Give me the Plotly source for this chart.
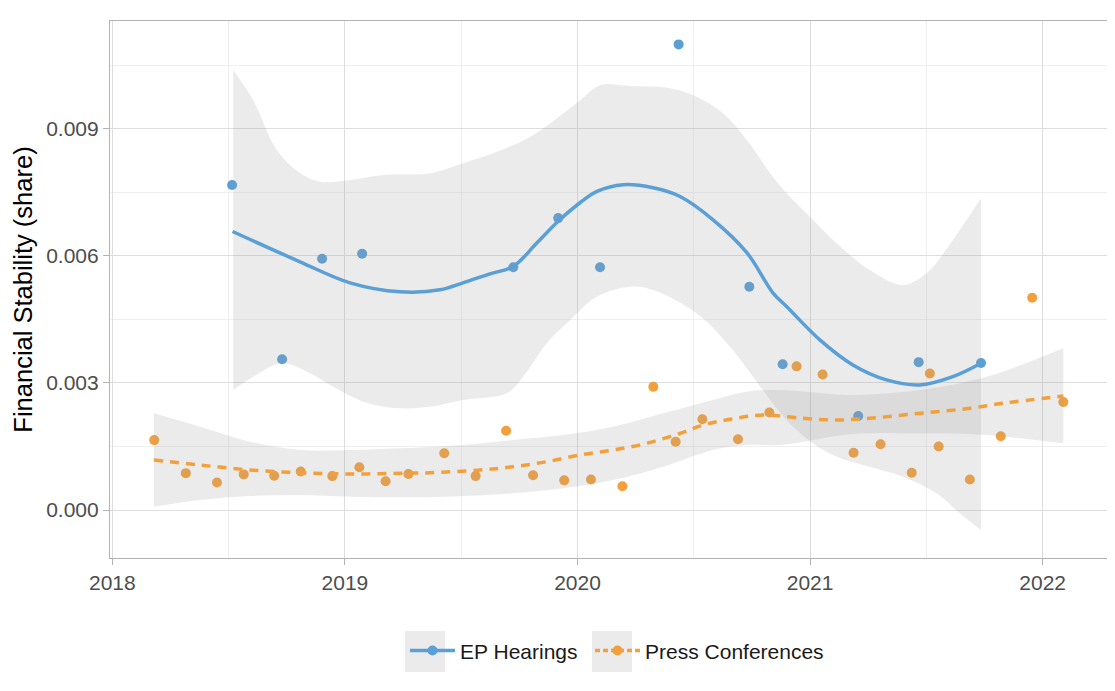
import plotly.graph_objects as go

# ---- data ----
ep_x = [2018.515, 2018.730, 2018.902, 2019.074, 2019.724, 2019.917, 2020.097,
        2020.435, 2020.739, 2020.882, 2021.207, 2021.467, 2021.735]
ep_y = [0.00767, 0.00356, 0.00593, 0.00605, 0.00573, 0.00689, 0.00573,
        0.01099, 0.00527, 0.00344, 0.00222, 0.00349, 0.00347]

pc_x = [2018.180, 2018.316, 2018.450, 2018.565, 2018.696, 2018.810, 2018.946,
        2019.062, 2019.175, 2019.273, 2019.427, 2019.562, 2019.693, 2019.809,
        2019.943, 2020.058, 2020.193, 2020.326, 2020.422, 2020.537, 2020.690,
        2020.825, 2020.942, 2021.054, 2021.187, 2021.303, 2021.437, 2021.515,
        2021.553, 2021.687, 2021.820, 2021.955, 2022.089]
pc_y = [0.00165, 0.00087, 0.00065, 0.00084, 0.00081, 0.00091, 0.00080,
        0.00101, 0.00068, 0.00085, 0.00134, 0.00080, 0.00187, 0.00082,
        0.00070, 0.00072, 0.00056, 0.00291, 0.00161, 0.00214, 0.00167,
        0.00230, 0.00339, 0.00320, 0.00135, 0.00155, 0.00088, 0.00322,
        0.00150, 0.00072, 0.00174, 0.00501, 0.00255]

# smoothed (loess) fit for EP Hearings
ep_fit_x = [2018.517, 2018.807, 2019.022, 2019.237, 2019.409, 2019.508, 2019.624,
            2019.723, 2019.826, 2019.916, 2020.011, 2020.084, 2020.196, 2020.325,
            2020.441, 2020.583, 2020.729, 2020.840, 2020.899, 2021.042, 2021.184,
            2021.329, 2021.472, 2021.614, 2021.735]
ep_fit_y = [0.006574, 0.005858, 0.005362, 0.005150, 0.005197, 0.005362, 0.005575,
            0.005747, 0.006307, 0.006810, 0.007252, 0.007519, 0.007677, 0.007606,
            0.007400, 0.006850, 0.006070, 0.005126, 0.004803, 0.004016, 0.003425,
            0.003071, 0.002953, 0.003149, 0.003465]

ep_up_x = [2018.520, 2018.605, 2018.707, 2018.807, 2018.893, 2019.022, 2019.164,
           2019.366, 2019.508, 2019.653, 2019.798, 2019.940, 2020.013, 2020.099,
           2020.226, 2020.398, 2020.512, 2020.626, 2020.728, 2020.828, 2020.899,
           2020.999, 2021.114, 2021.256, 2021.399, 2021.501, 2021.614, 2021.735]
ep_up_y = [0.010386, 0.009677, 0.008497, 0.007954, 0.007749, 0.007789, 0.007907,
           0.007947, 0.008184, 0.008457, 0.008811, 0.009364, 0.009677, 0.010031,
           0.010008, 0.009954, 0.009755, 0.009364, 0.008733, 0.007954, 0.007475,
           0.006923, 0.006295, 0.005665, 0.005311, 0.005587, 0.006373, 0.007357]

ep_lo_x = [2018.520, 2018.606, 2018.730, 2018.850, 2018.949, 2019.094, 2019.237,
           2019.380, 2019.508, 2019.696, 2019.766, 2019.868, 2019.954, 2020.083,
           2020.226, 2020.325, 2020.512, 2020.656, 2020.755, 2020.797, 2020.899,
           2021.012, 2021.114, 2021.256, 2021.399, 2021.544, 2021.644, 2021.735]
ep_lo_y = [0.002833, 0.003146, 0.003463, 0.003227, 0.002911, 0.002530, 0.002400,
           0.002450, 0.002597, 0.002755, 0.003146, 0.003935, 0.004407, 0.005035,
           0.005271, 0.005193, 0.004643, 0.003855, 0.003146, 0.002833, 0.002124,
           0.001574, 0.001258, 0.001022, 0.000786, 0.000394, -0.000078, -0.000480]

# smoothed (loess) fit for Press Conferences
pc_fit_x = [2018.179, 2018.377, 2018.592, 2018.807, 2019.022, 2019.237, 2019.366,
            2019.581, 2019.723, 2019.868, 2020.011, 2020.153, 2020.298, 2020.441,
            2020.540, 2020.656, 2020.797, 2020.969, 2021.114, 2021.257, 2021.399,
            2021.544, 2021.687, 2021.829, 2022.089]
pc_fit_y = [0.001180, 0.001062, 0.000944, 0.000880, 0.000850, 0.000866, 0.000880,
            0.000944, 0.001022, 0.001140, 0.001298, 0.001416, 0.001574, 0.001810,
            0.002006, 0.002141, 0.002242, 0.002164, 0.002124, 0.002164, 0.002242,
            0.002320, 0.002401, 0.002519, 0.002690]

pc_up_x = [2018.179, 2018.377, 2018.592, 2018.807, 2019.022, 2019.237, 2019.508,
           2019.723, 2019.938, 2020.153, 2020.368, 2020.583, 2020.727, 2020.870,
           2021.184, 2021.472, 2021.759, 2022.089]
pc_up_y = [0.002282, 0.001966, 0.001612, 0.001416, 0.001416, 0.001456, 0.001534,
           0.001652, 0.001770, 0.001966, 0.002282, 0.002597, 0.002792, 0.002833,
           0.002715, 0.002833, 0.003146, 0.003817]

pc_lo_x = [2018.179, 2018.377, 2018.592, 2018.807, 2019.022, 2019.237, 2019.438,
           2019.723, 2019.938, 2020.153, 2020.368, 2020.583, 2020.727, 2020.870,
           2021.184, 2021.472, 2021.759, 2022.089]
pc_lo_y = [0.000078, 0.000236, 0.000330, 0.000354, 0.000314, 0.000300, 0.000314,
           0.000394, 0.000512, 0.000708, 0.001022, 0.001416, 0.001534, 0.001534,
           0.001794, 0.001810, 0.001770, 0.001574]

year_ticks = [2018, 2019, 2020, 2021, 2022]
year_labels = ["2018", "2019", "2020", "2021", "2022"]
y_ticks = [0.0, 0.003, 0.006, 0.009]
y_labels = ["0.000", "0.003", "0.006", "0.009"]

BLUE = "#5A9FD6"
ORANGE = "#F3A03C"
BAND = "rgba(153,153,153,0.2)"
FONT = "Liberation Sans, Arial, Helvetica, sans-serif"

fig = go.Figure()

# points
fig.add_trace(go.Scatter(x=ep_x, y=ep_y, mode="markers", showlegend=False,
                         marker=dict(color=BLUE, size=10), hoverinfo="skip"))
fig.add_trace(go.Scatter(x=pc_x, y=pc_y, mode="markers", showlegend=False,
                         marker=dict(color=ORANGE, size=10), hoverinfo="skip"))

# confidence bands (lower edge, then upper edge filled to it)
for lo_x, lo_y, up_x, up_y in [(ep_lo_x, ep_lo_y, ep_up_x, ep_up_y),
                               (pc_lo_x, pc_lo_y, pc_up_x, pc_up_y)]:
    fig.add_trace(go.Scatter(x=lo_x, y=lo_y, mode="lines",
                             line=dict(width=0, shape="spline", color="rgba(0,0,0,0)"),
                             showlegend=False, hoverinfo="skip"))
    fig.add_trace(go.Scatter(x=up_x, y=up_y, mode="lines", fill="tonexty",
                             fillcolor=BAND,
                             line=dict(width=0, shape="spline", color="rgba(0,0,0,0)"),
                             showlegend=False, hoverinfo="skip"))

# fitted lines
fig.add_trace(go.Scatter(x=ep_fit_x, y=ep_fit_y, mode="lines", showlegend=False,
                         line=dict(color=BLUE, width=3.5, shape="spline"),
                         hoverinfo="skip"))
fig.add_trace(go.Scatter(x=pc_fit_x, y=pc_fit_y, mode="lines", showlegend=False,
                         line=dict(color=ORANGE, width=3.5, shape="spline",
                                   dash="9px,7px"),
                         hoverinfo="skip"))

# legend entries
fig.add_trace(go.Scatter(x=[None], y=[None], mode="lines+markers", name="EP Hearings",
                         line=dict(color=BLUE, width=3.5),
                         marker=dict(color=BLUE, size=10), legend="legend"))
fig.add_trace(go.Scatter(x=[None], y=[None], mode="lines+markers",
                         name="Press Conferences",
                         line=dict(color=ORANGE, width=3.5, dash="5px,3px"),
                         marker=dict(color=ORANGE, size=10), legend="legend2"))

# grey legend key backgrounds (as in the ggplot legend)
key_boxes = [(0.2956, 0.3357), (0.4830, 0.5230)]
shapes = [dict(type="rect", xref="paper", yref="paper", x0=a, x1=b,
               y0=-0.2123, y1=-0.1359, fillcolor="#EBEBEB", line=dict(width=0),
               layer="below") for a, b in key_boxes]

legend_style = dict(orientation="h", xanchor="left", y=-0.173, yanchor="middle",
                    font=dict(size=21, color="#1A1A1A"), itemwidth=45,
                    bgcolor="rgba(0,0,0,0)")

fig.update_layout(
    width=1107, height=675,
    margin=dict(l=102, r=7, t=13, b=125, autoexpand=False),
    paper_bgcolor="white", plot_bgcolor="white",
    font=dict(family=FONT, size=21, color="#4D4D4D"),
    legend=dict(x=0.2956, **legend_style),
    legend2=dict(x=0.4810, **legend_style),
    shapes=shapes,
)
fig.update_xaxes(
    range=[2017.990, 2022.281], tickvals=year_ticks, ticktext=year_labels,
    showgrid=True, gridcolor="#DEDEDE", gridwidth=1,
    minor=dict(dtick=0.5, tick0=2018, showgrid=True, gridcolor="#EFEFEF",
               gridwidth=1),
    showline=True, mirror=True, linecolor="#B3B3B3", linewidth=1.2,
    ticks="outside", ticklen=6, tickcolor="#B3B3B3",
    tickfont=dict(size=21, color="#4D4D4D"), zeroline=False, automargin=False,
)
fig.update_yaxes(
    range=[-0.001133, 0.011542], tickvals=y_ticks, ticktext=y_labels,
    showgrid=True, gridcolor="#DEDEDE", gridwidth=1,
    minor=dict(dtick=0.0015, tick0=0.0015, showgrid=True, gridcolor="#EFEFEF",
               gridwidth=1),
    showline=True, mirror=True, linecolor="#B3B3B3", linewidth=1.2,
    ticks="outside", ticklen=6, tickcolor="#B3B3B3",
    tickfont=dict(size=21, color="#4D4D4D"), zeroline=False, automargin=False,
    title=dict(text="Financial Stability (share)", standoff=6,
               font=dict(size=25.5, color="#000000")),
)

fig.write_html("out.html")
